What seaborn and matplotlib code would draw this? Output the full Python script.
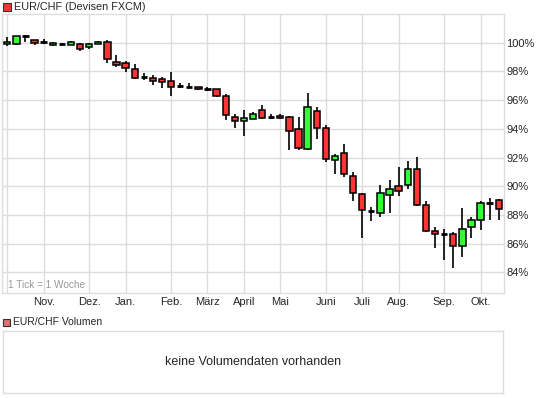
import numpy as np
import matplotlib
matplotlib.use('Agg')
import matplotlib.pyplot as plt
from matplotlib.patches import Rectangle
import seaborn as sns

sns.set_style("white")
plt.rcParams['font.family'] = ['Liberation Sans', 'DejaVu Sans']

# weekly EUR/CHF candles, in % of the first close
open_ = [99.89, 99.89, 100.50, 100.17, 100.07, 99.82, 99.93, 99.84, 99.93, 99.70,
         99.91, 100.03, 98.66, 98.59, 98.15, 97.59, 97.57, 97.45, 97.31, 97.00,
         96.93, 96.89, 96.77, 96.75, 96.32, 94.80, 94.51, 94.67, 95.29, 94.84,
         94.88, 94.80, 93.97, 92.57, 95.22, 94.03, 91.80, 92.29, 90.69, 89.44,
         88.29, 88.11, 89.37, 89.99, 90.07, 91.18, 88.67, 86.86, 86.65, 86.65,
         85.81, 87.14, 87.62, 88.85, 89.02]
high = [100.38, 100.50, 100.54, 100.20, 100.24, 100.05, 100.00, 100.14, 99.95, 99.95,
        100.14, 100.19, 99.14, 98.72, 98.49, 97.89, 97.74, 97.61, 97.96, 97.21,
        97.16, 96.90, 96.93, 96.77, 96.41, 95.05, 95.31, 95.15, 95.64, 95.01,
        95.02, 94.89, 94.81, 96.47, 95.50, 94.26, 92.22, 92.92, 91.01, 89.50,
        88.53, 90.08, 90.41, 91.35, 91.76, 92.01, 88.97, 87.16, 87.02, 86.83,
        88.46, 87.87, 88.97, 89.16, 89.09]
low = [99.79, 99.85, 100.03, 99.86, 99.93, 99.80, 99.84, 99.82, 99.44, 99.56,
       99.89, 98.62, 98.34, 97.99, 97.49, 97.40, 97.02, 96.82, 96.32, 96.86,
       96.82, 96.68, 96.63, 96.24, 94.63, 94.08, 93.52, 94.65, 94.70, 94.66,
       94.70, 92.54, 92.52, 92.55, 93.32, 91.67, 90.83, 90.66, 88.99, 86.37,
       87.60, 87.87, 88.15, 89.30, 89.83, 88.65, 86.83, 85.71, 84.86, 84.32,
       85.05, 86.37, 86.95, 87.67, 87.67]
close = [100.05, 100.47, 100.50, 100.00, 100.07, 100.00, 99.93, 100.07, 99.54, 99.93,
         100.07, 98.84, 98.48, 98.22, 97.57, 97.59, 97.30, 97.23, 96.93, 97.00,
         96.93, 96.75, 96.77, 96.32, 94.94, 94.51, 94.73, 95.02, 94.73, 94.84,
         94.73, 93.88, 92.64, 95.50, 94.03, 91.87, 92.10, 90.83, 89.50, 88.32,
         88.29, 89.50, 89.78, 89.70, 91.18, 88.67, 86.90, 86.65, 86.65, 85.81,
         87.00, 87.62, 88.81, 88.85, 88.43]

month_pos = [0, 4, 9, 13, 18, 22, 26, 30, 35, 39, 43, 48, 52]
month_labels = ['', 'Nov.', 'Dez.', 'Jan.', 'Feb.', 'März', 'April', 'Mai',
                'Juni', 'Juli', 'Aug.', 'Sep.', 'Okt.']
y_ticks = [84, 86, 88, 90, 92, 94, 96, 98, 100]

RED = '#ff3333'
GREEN = '#33ff33'
GRID = '#dddddd'

W, H = 545, 398
fig = plt.figure(figsize=(W / 100, H / 100), dpi=100)
fig.patch.set_facecolor('white')

# ---- price panel -----------------------------------------------------
ax = fig.add_axes([2 / W, 1 - 293 / H, 502 / W, 279 / H])
ax.set_facecolor('white')

x = np.arange(len(close))
o = np.array(open_)
c = np.array(close)
body_w = 0.7

ax.vlines(x, low, high, color='black', lw=1.2, zorder=3)
for xi, oi, ci in zip(x, o, c):
    if abs(ci - oi) < 0.02:
        # doji -> plain horizontal bar
        ax.hlines(oi, xi - body_w / 2, xi + body_w / 2, color='black', lw=2, zorder=4)
        continue
    col = GREEN if ci > oi else RED
    ax.add_patch(Rectangle((xi - body_w / 2, min(oi, ci)), body_w, abs(ci - oi),
                           facecolor=col, edgecolor='black', lw=1.1, zorder=4))

ax.set_xlim(-0.58, 54.58)
ax.set_ylim(82.56, 102.0)
ax.set_xticks(month_pos)
ax.set_xticklabels(month_labels, fontsize=8)
ax.set_yticks(y_ticks)
ax.set_yticklabels([f'{t}%' for t in y_ticks], fontsize=8)
ax.yaxis.tick_right()
ax.tick_params(axis='both', length=0, pad=3)
ax.tick_params(axis='y', pad=1.5)
ax.grid(True, color=GRID, lw=1, zorder=0)
ax.set_axisbelow(True)
for s in ax.spines.values():
    s.set_color(GRID)
    s.set_linewidth(1)
ax.text(0.012, 0.012, '1 Tick = 1 Woche', transform=ax.transAxes, fontsize=7.2,
        color='#999999', ha='left', va='bottom')

# header
fig.patches.append(Rectangle((3 / W, 1 - 11 / H), 8 / W, 8 / H, transform=fig.transFigure,
                             facecolor=RED, edgecolor='#333333', lw=0.8))
fig.text(14 / W, 1 - 7 / H, 'EUR/CHF (Devisen FXCM)', fontsize=7.8, va='center', ha='left')

# ---- volume panel ----------------------------------------------------
fig.patches.append(Rectangle((3 / W, 1 - 326 / H), 7 / W, 7 / H, transform=fig.transFigure,
                             facecolor='#dd7070', edgecolor='#333333', lw=0.8))
fig.text(13 / W, 1 - 322 / H, 'EUR/CHF Volumen', fontsize=7.5, va='center', ha='left')

vax = fig.add_axes([3 / W, 1 - 393 / H, 500 / W, 62 / H])
vax.set_xticks([])
vax.set_yticks([])
for s in vax.spines.values():
    s.set_color(GRID)
    s.set_linewidth(1)
vax.text(0.5, 0.5, 'keine Volumendaten vorhanden', transform=vax.transAxes,
         ha='center', va='center', fontsize=9)

fig.savefig('out.png', dpi=100)
